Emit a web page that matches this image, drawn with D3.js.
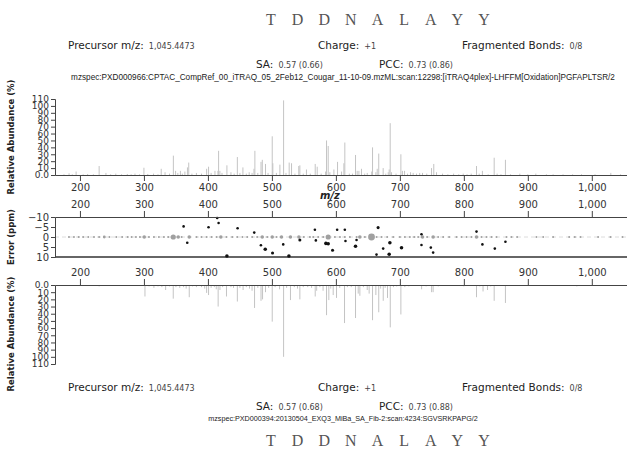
<!DOCTYPE html>
<html>
<head>
<meta charset="utf-8">
<script src="https://cdn.jsdelivr.net/npm/d3@7"></script>
<style>
    body { margin: 0; background: #fff; }
    text { font-family: "DejaVu Sans", Verdana, sans-serif; fill: #222; }
    .axis path, .axis line { stroke: #444; }
    .axis text { font-family: "DejaVu Sans", sans-serif; font-size: 10px; fill: #333; }
    .yaxis text { font-size: 9px; }
</style>
</head>
<body>
<svg></svg>
<script>
var w = 627, h = 450;

// peptide + header info
var sequence = ["T", "D", "D", "N", "A", "L", "A", "Y", "Y"];
var topPrecursor = "1,045.4473", topCharge = "+1", topBonds = "0/8";
var topSA = "0.57 (0.66)", topPCC = "0.73 (0.86)";
var topUsi = "mzspec:PXD000966:CPTAC_CompRef_00_iTRAQ_05_2Feb12_Cougar_11-10-09.mzML:scan:12298:[iTRAQ4plex]-LHFFM[Oxidation]PGFAPLTSR/2";
var botPrecursor = "1,045.4473", botCharge = "+1", botBonds = "0/8";
var botSA = "0.57 (0.68)", botPCC = "0.73 (0.88)";
var botUsi = "mzspec:PXD000394:20130504_EXQ3_MiBa_SA_Fib-2:scan:4234:SGVSRKPAPG/2";

var mzTicks = [200, 300, 400, 500, 600, 700, 800, 900, 1000];
var intTicks = [0, 10, 20, 30, 40, 50, 60, 70, 80, 90, 100, 110];
var errTicks = [-10, -5, 0, 5, 10];

// [m/z, relative abundance %]
var topPeaks = [
    [175,1],[183,2.5],[188,1],[194,5],[205,1],[212,1.5],[221,1],[230,13],[240.6,3],[248,1],[256,2],[265,1],
    [274,1.5],[280,1],[286,2],[293,1],[300,10.5],[306,1.5],[315,2],[322,1],[327,9],[333,4],[340,2],[346,28],
    [349.5,6],[353,3],[357,6],[360,2],[364,5],[368,11],[370,18],[375,2],[382,3],[390,2],[398,9],[401,12],
    [405,3],[411,6],[415.6,6],[416.7,35],[418.7,6],[422,3],[429.7,14],[436,4],[441,2],[446,26],[450,3],
    [454.7,11],[460,2],[464.5,4],[469,3],[472,9],[473.4,35],[478,3],[483,19],[485,22],[490,16],[494,3],
    [500.5,56],[501.5,17],[507,3],[512.5,15],[518.3,108],[522,3],[527,18],[530.7,17],[536,2],[542,13],
    [543.7,14],[549,2],[554,8],[560,2],[567.7,16],[570.8,12],[577,2],[583.9,5],[585.4,50],[588,42],
    [590.6,4],[596.9,8],[602.6,19],[608.9,5],[612.5,17],[614,47],[621,2],[626,2],[630.7,29],[633.3,6],
    [636,6],[640,9],[645,2],[649,3],[656,5],[657.3,40],[662.5,4],[664.6,9],[667,31],[673.9,10],[678,2],
    [681.8,4],[683.3,8],[684.9,75],[687,4],[694,2],[701.6,30],[704,6],[707.3,6],[712,2],[716.7,4],
    [720.8,3],[726,2],[731,3],[735.4,3],[742,2],[749.5,10],[753,16],[757.3,4],[766.7,2],[775,1],[784,2],
    [792,1],[799,2],[805,1],[811.5,2],[819.8,13],[824,2],[829,6],[838,1],[847.4,25],[852,2],[858,1],
    [865,22],[873,1],[887.5,2],[900,1],[912.5,2],[929,1],[939.5,1],[955,1],[970,1],[983.9,1],[1005,1],
    [1029.7,3],[1045,1]
];

var bottomPeaks = [
    [190,1],[210,1],[230,2],[245,1],[258,1],[272,1],[288,1],[301.6,16],[308,2],[315.6,4],[322,2],[328,3],
    [333.9,7],[340,2],[345.8,19],[350,3],[356,4],[362,3],[366,5],[370.8,17],[376,2],[382,3],[390,3],
    [395,5],[398,11],[401,14],[405,4],[410,3],[413,6],[416,30],[418.8,7],[423,3],[429,16],[436,3],[440,4],
    [446,23],[450,4],[455,7],[460,3],[465,5],[469,8],[472.9,32],[478,4],[483,22],[485.4,20],[490,10],
    [495,4],[500.5,51],[505,3],[512,6],[518.3,100],[523,4],[529,21],[535,3],[540,5],[543.7,20],[549,3],
    [556,3],[562,4],[567.7,16],[570,8],[575,3],[580,8],[585.4,42],[589,21],[592,5],[595.8,14],[601,18],
    [606,4],[613.5,53],[618,3],[624,3],[630.7,46],[634.9,12],[637.5,15],[643,3],[649,7],[652,12],
    [657.3,49],[662.5,14],[667,38],[670,5],[674,22],[677,4],[680.7,18],[685,59],[690,3],[695,2],
    [701.6,41],[707.8,3],[714,2],[722,1],[734,6],[741,2],[749.6,10],[752,10],[760,2],[770,1],[779,1],
    [790,1],[800,2],[810,1],[819.8,17],[825,2],[830,9],[837,7],[842,2],[847.4,22],[855,1],[865,25],
    [880,1],[895,1],[910,1],[950,1],[976.6,2],[1000,1],[1020,1]
];

// peaks sitting on the 0 ppm line: [m/z, weight]
var zeroDots = [
    [182.8,1],[190.6,1],[198,1],[205,1],[213,1],[222,1],[230,1],[238,1.5],[246,1],[256.8,1],[266,1],
    [274.5,1],[280.8,1],[287.5,1],[293.8,1],[300.5,2],[307.8,1],[315.6,1],[323.4,1],[331.3,1],[338,1],
    [345.8,3],[353.6,2],[358.9,1],[370.8,2],[382.3,1],[390,1],[398,1],[405.7,1],[413.5,1],[420.3,2],
    [429,1],[438,1],[445.8,1],[454,1],[461.5,1],[469.3,1],[477,1],[484.9,2],[492.7,1],[500.5,2],[507.3,1],
    [515,2],[529,2],[542.2,2],[550,1],[559.4,1],[564.6,1],[572.4,1],[580.2,1],[588,3],[598.4,1],[606.3,1],
    [614,1],[621.9,1],[632.3,1],[637.5,2],[645.3,1],[655.7,4],[663.6,1],[671.4,1],[680.2,1],[689.6,1],
    [700,1],[707.8,1],[715.6,1],[722.4,1],[728.6,1],[735.4,2],[742.7,1],[752,2],[759.8,1],[767.7,1],
    [777,1],[788.5,1],[796.4,1],[804.2,1],[812,1],[819.8,2],[827.6,1],[835.4,1],[843.2,1],[851,1],
    [866.7,1],[874.5,1],[883.3,1],[913.5,1],[924,1],[939.5,1],[964.6,1],[973.4,1],[982.3,1],[1009.9,1],
    [1029.2,1],[1048,1]
];

// matched peaks: [m/z, error ppm, weight]
var errorDots = [
    [362,-5.3,1],[367.7,2.9,1],[401,-4.9,1],[414.5,-9.5,1],[416.7,-7,1],[429.7,9.5,1.6],[446.4,-4.4,1],
    [472.4,-2.2,1],[482.8,4.1,1],[489.6,6.1,1.6],[501,8,1.3],[517.7,3.7,1],[526.6,9.5,1.6],[543.7,1.5,1.3],
    [567.2,-3.6,1],[568.7,1.7,1],[584.4,3.2,1.6],[588,3.4,1.6],[594.8,6.6,1.3],[602,-3.6,1],[614,-3.6,1],
    [615,2,1],[630.7,4.6,1.6],[632.3,1.5,1],[666,-4.7,1.3],[663.5,8.8,1],[673.9,5.8,1],[684.4,2.9,1.6],
    [683.3,8.6,1.6],[702.6,5.4,1.6],[733.8,-1.4,1],[733.8,4,1],[748.4,5.3,1],[752,7.8,1],[819.8,-2.7,1],
    [829,3.7,1],[848.4,5.8,1],[865,2.4,1]
];

var svg = d3.select("svg")
        .attr("width", w)
        .attr("height", h);

var x = d3.scaleLinear().domain([161, 1055]).range([55, 627]);
var yTop = d3.scaleLinear().domain([0, 110]).range([175, 99]);
var yErr = d3.scaleLinear().domain([-10, 10]).range([217, 257]);
var yBot = d3.scaleLinear().domain([0, 110]).range([285, 364]);
var r = d3.scaleLinear().domain([1, 4]).range([1, 3.4]);

var mzFormat = d3.format(",");
var intFormat = function(d) { return d === 0 ? "0.0" : d; };

// ---- header blocks ----
function header(yLine1, yLine2, yUsi, prec, charge, bonds, sa, pcc, usi, usiSize) {
    var g = svg.append("g");
    function pair(lx, y, label, value) {
        var t = g.append("text").attr("x", lx).attr("y", y).style("font-size", "10.5px").text(label);
        var vx = lx + t.node().getComputedTextLength() + 5;
        g.append("text").attr("x", vx).attr("y", y).style("font-size", "8px").style("fill", "#444").text(value);
    }
    pair(68, yLine1, "Precursor m/z:", prec);
    pair(318, yLine1, "Charge:", charge);
    pair(462, yLine1, "Fragmented Bonds:", bonds);
    pair(256, yLine2, "SA:", sa);
    pair(379, yLine2, "PCC:", pcc);
    g.append("text")
            .attr("x", 343).attr("y", yUsi)
            .attr("text-anchor", "middle")
            .style("font-family", "'Liberation Sans', Arial, sans-serif")
            .style("font-size", usiSize)
            .text(usi);
}

function peptide(y) {
    var px = d3.scalePoint().domain(d3.range(sequence.length)).range([271, 484]);
    svg.append("g").selectAll("text")
            .data(sequence)
            .enter().append("text")
            .attr("x", function(d, i) { return px(i); })
            .attr("y", y)
            .attr("text-anchor", "middle")
            .style("font-family", "'Liberation Serif', serif")
            .style("font-size", "16px")
            .style("fill", "#555")
            .text(function(d) { return d; });
}

peptide(25);
header(49, 68, 80, topPrecursor, topCharge, topBonds, topSA, topPCC, topUsi, "8.2px");
header(391, 410, 421, botPrecursor, botCharge, botBonds, botSA, botPCC, botUsi, "7.2px");
peptide(446);

// ---- top spectrum ----
svg.append("g")
        .selectAll("line")
        .data(topPeaks)
        .enter().append("line")
        .attr("x1", function(d) { return x(d[0]); })
        .attr("x2", function(d) { return x(d[0]); })
        .attr("y1", yTop(0))
        .attr("y2", function(d) { return yTop(d[1]); })
        .attr("stroke", "#c4c4c4")
        .attr("stroke-width", 1);

svg.append("g")
        .attr("class", "axis")
        .attr("transform", "translate(0," + yTop(0) + ")")
        .call(d3.axisBottom(x).tickValues(mzTicks).tickFormat(mzFormat).tickSizeOuter(0));

svg.append("g")
        .attr("class", "axis yaxis")
        .attr("transform", "translate(55,0)")
        .call(d3.axisLeft(yTop).tickValues(intTicks).tickFormat(intFormat).tickSize(4).tickPadding(2));

svg.append("text")
        .attr("x", 320).attr("y", 199)
        .style("font-size", "10px")
        .style("font-weight", "bold")
        .style("font-style", "italic")
        .text("m/z");

// ---- error plot ----
svg.append("line")
        .attr("x1", 55).attr("x2", w)
        .attr("y1", yErr(0)).attr("y2", yErr(0))
        .attr("stroke", "#dcdcdc")
        .attr("stroke-dasharray", "4,3");

svg.append("line")
        .attr("x1", 55).attr("x2", w)
        .attr("y1", yErr(10)).attr("y2", yErr(10))
        .attr("stroke", "#666")
        .attr("stroke-width", 2);

svg.append("g")
        .selectAll("circle")
        .data(zeroDots)
        .enter().append("circle")
        .attr("cx", function(d) { return x(d[0]); })
        .attr("cy", yErr(0))
        .attr("r", function(d) { return r(d[1]); })
        .attr("fill", "#a0a0a0");

svg.append("g")
        .selectAll("circle")
        .data(errorDots)
        .enter().append("circle")
        .attr("cx", function(d) { return x(d[0]); })
        .attr("cy", function(d) { return yErr(d[1]); })
        .attr("r", function(d) { return r(d[2]) + 0.3; })
        .attr("fill", "#111");

svg.append("g")
        .attr("class", "axis")
        .attr("transform", "translate(0," + yErr(-10) + ")")
        .call(d3.axisTop(x).tickValues(mzTicks).tickFormat(mzFormat).tickSizeOuter(0));

svg.append("g")
        .attr("class", "axis")
        .attr("transform", "translate(55,0)")
        .call(d3.axisLeft(yErr).tickValues(errTicks).tickSize(4).tickPadding(2));

// ---- bottom (mirrored) spectrum ----
svg.append("g")
        .selectAll("line")
        .data(bottomPeaks)
        .enter().append("line")
        .attr("x1", function(d) { return x(d[0]); })
        .attr("x2", function(d) { return x(d[0]); })
        .attr("y1", yBot(0))
        .attr("y2", function(d) { return yBot(d[1]); })
        .attr("stroke", "#c4c4c4")
        .attr("stroke-width", 1);

svg.append("g")
        .attr("class", "axis")
        .attr("transform", "translate(0," + yBot(0) + ")")
        .call(d3.axisTop(x).tickValues(mzTicks).tickFormat(mzFormat).tickSizeOuter(0));

svg.append("g")
        .attr("class", "axis yaxis")
        .attr("transform", "translate(55,0)")
        .call(d3.axisLeft(yBot).tickValues(intTicks).tickFormat(intFormat).tickSize(4).tickPadding(2));

// ---- y titles ----
function yTitle(cy, label) {
    svg.append("text")
            .attr("transform", "translate(14," + cy + ") rotate(-90)")
            .attr("text-anchor", "middle")
            .style("font-size", "8.5px")
            .style("font-weight", "bold")
            .text(label);
}
yTitle(137, "Relative Abundance (%)");
yTitle(237, "Error (ppm)");
yTitle(334, "Relative Abundance (%)");
</script>
</body>
</html>
